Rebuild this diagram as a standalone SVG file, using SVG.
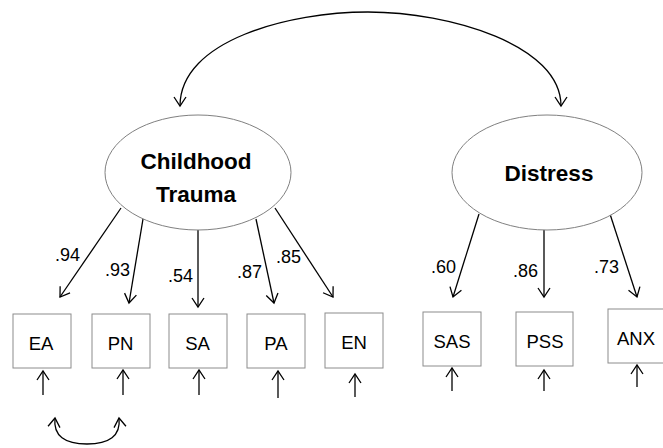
<svg xmlns="http://www.w3.org/2000/svg" width="663" height="448" viewBox="0 0 663 448">
<defs>
<marker id="ah" viewBox="-10 -7 12 14" markerWidth="12" markerHeight="14" refX="0" refY="0" orient="auto" markerUnits="userSpaceOnUse">
<path d="M-9,-6 L0,0 L-9,6" fill="none" stroke="#000" stroke-width="1.3"/>
</marker>
<style>
.lat{fill:#fff;stroke:#808080;stroke-width:1}
.box{fill:#fff;stroke:#8c8c8c;stroke-width:1}
.t{font-family:"Liberation Sans",Arial,sans-serif;fill:#000;text-anchor:middle}
.lt{font-size:22.5px;font-weight:bold}
.bt{font-size:18.5px}
.ld{font-family:"Liberation Sans",Arial,sans-serif;font-size:18px;fill:#000}
.c{fill:none;stroke:#000;stroke-width:1.3;marker-end:url(#ah)}
</style>
</defs>
<rect width="663" height="448" fill="#fff"/>
<g id="connectors">
<path class="c" d="M368,12 C290,12 180,40 180,106"/>
<path class="c" d="M368,12 C450,12 561,45 561,106"/>
<path class="c" d="M121,208 L60,297"/>
<path class="c" d="M143,219 L129,303"/>
<path class="c" d="M198,230 L198,307"/>
<path class="c" d="M256,219 L274,303"/>
<path class="c" d="M275,208 L333,297"/>
<path class="c" d="M479,214 L453,297"/>
<path class="c" d="M544,230 L544,297"/>
<path class="c" d="M610,214 L637,297"/>
<path class="c" d="M43,395 L43,371"/>
<path class="c" d="M123,395 L123,370"/>
<path class="c" d="M199,395 L199,370"/>
<path class="c" d="M278,398 L278,371"/>
<path class="c" d="M355,397 L355,374"/>
<path class="c" d="M452,391 L452,368"/>
<path class="c" d="M544,391 L544,370"/>
<path class="c" d="M637,387 L637,365"/>
<path class="c" d="M87,444 C65,444 53,436 55,418"/>
<path class="c" d="M87,444 C109,444 121,436 119,418"/>
<text class="ld" x="55" y="261">.94</text>
<text class="ld" x="105" y="276">.93</text>
<text class="ld" x="168" y="282">.54</text>
<text class="ld" x="237" y="278">.87</text>
<text class="ld" x="276" y="263">.85</text>
<text class="ld" x="431" y="273">.60</text>
<text class="ld" x="513" y="277">.86</text>
<text class="ld" x="594" y="273">.73</text>
</g>
<g id="ChildhoodTrauma">
<ellipse class="lat" cx="198" cy="172.5" rx="93" ry="57.5"/>
<text class="t lt" x="196" y="169">Childhood</text>
<text class="t lt" x="196" y="202">Trauma</text>
</g>
<g id="Distress">
<ellipse class="lat" cx="547" cy="172.5" rx="95" ry="57.5"/>
<text class="t lt" x="549" y="181">Distress</text>
</g>
<g id="EA"><rect class="box" x="13" y="314" width="58" height="54"/><text class="t bt" x="41" y="349.5">EA</text></g>
<g id="PN"><rect class="box" x="92" y="314" width="58" height="54"/><text class="t bt" x="120.5" y="349.5">PN</text></g>
<g id="SA"><rect class="box" x="169" y="314" width="58" height="54"/><text class="t bt" x="197.5" y="349.5">SA</text></g>
<g id="PA"><rect class="box" x="247" y="314" width="58" height="54"/><text class="t bt" x="276" y="349.5">PA</text></g>
<g id="EN"><rect class="box" x="325" y="313" width="58" height="55"/><text class="t bt" x="354" y="349">EN</text></g>
<g id="SAS"><rect class="box" x="423" y="312" width="58" height="54"/><text class="t bt" x="452" y="347.5">SAS</text></g>
<g id="PSS"><rect class="box" x="516" y="312" width="57" height="54"/><text class="t bt" x="545" y="347.5">PSS</text></g>
<g id="ANX"><rect class="box" x="608" y="309" width="58" height="54"/><text class="t bt" x="636" y="344.5">ANX</text></g>
</svg>
